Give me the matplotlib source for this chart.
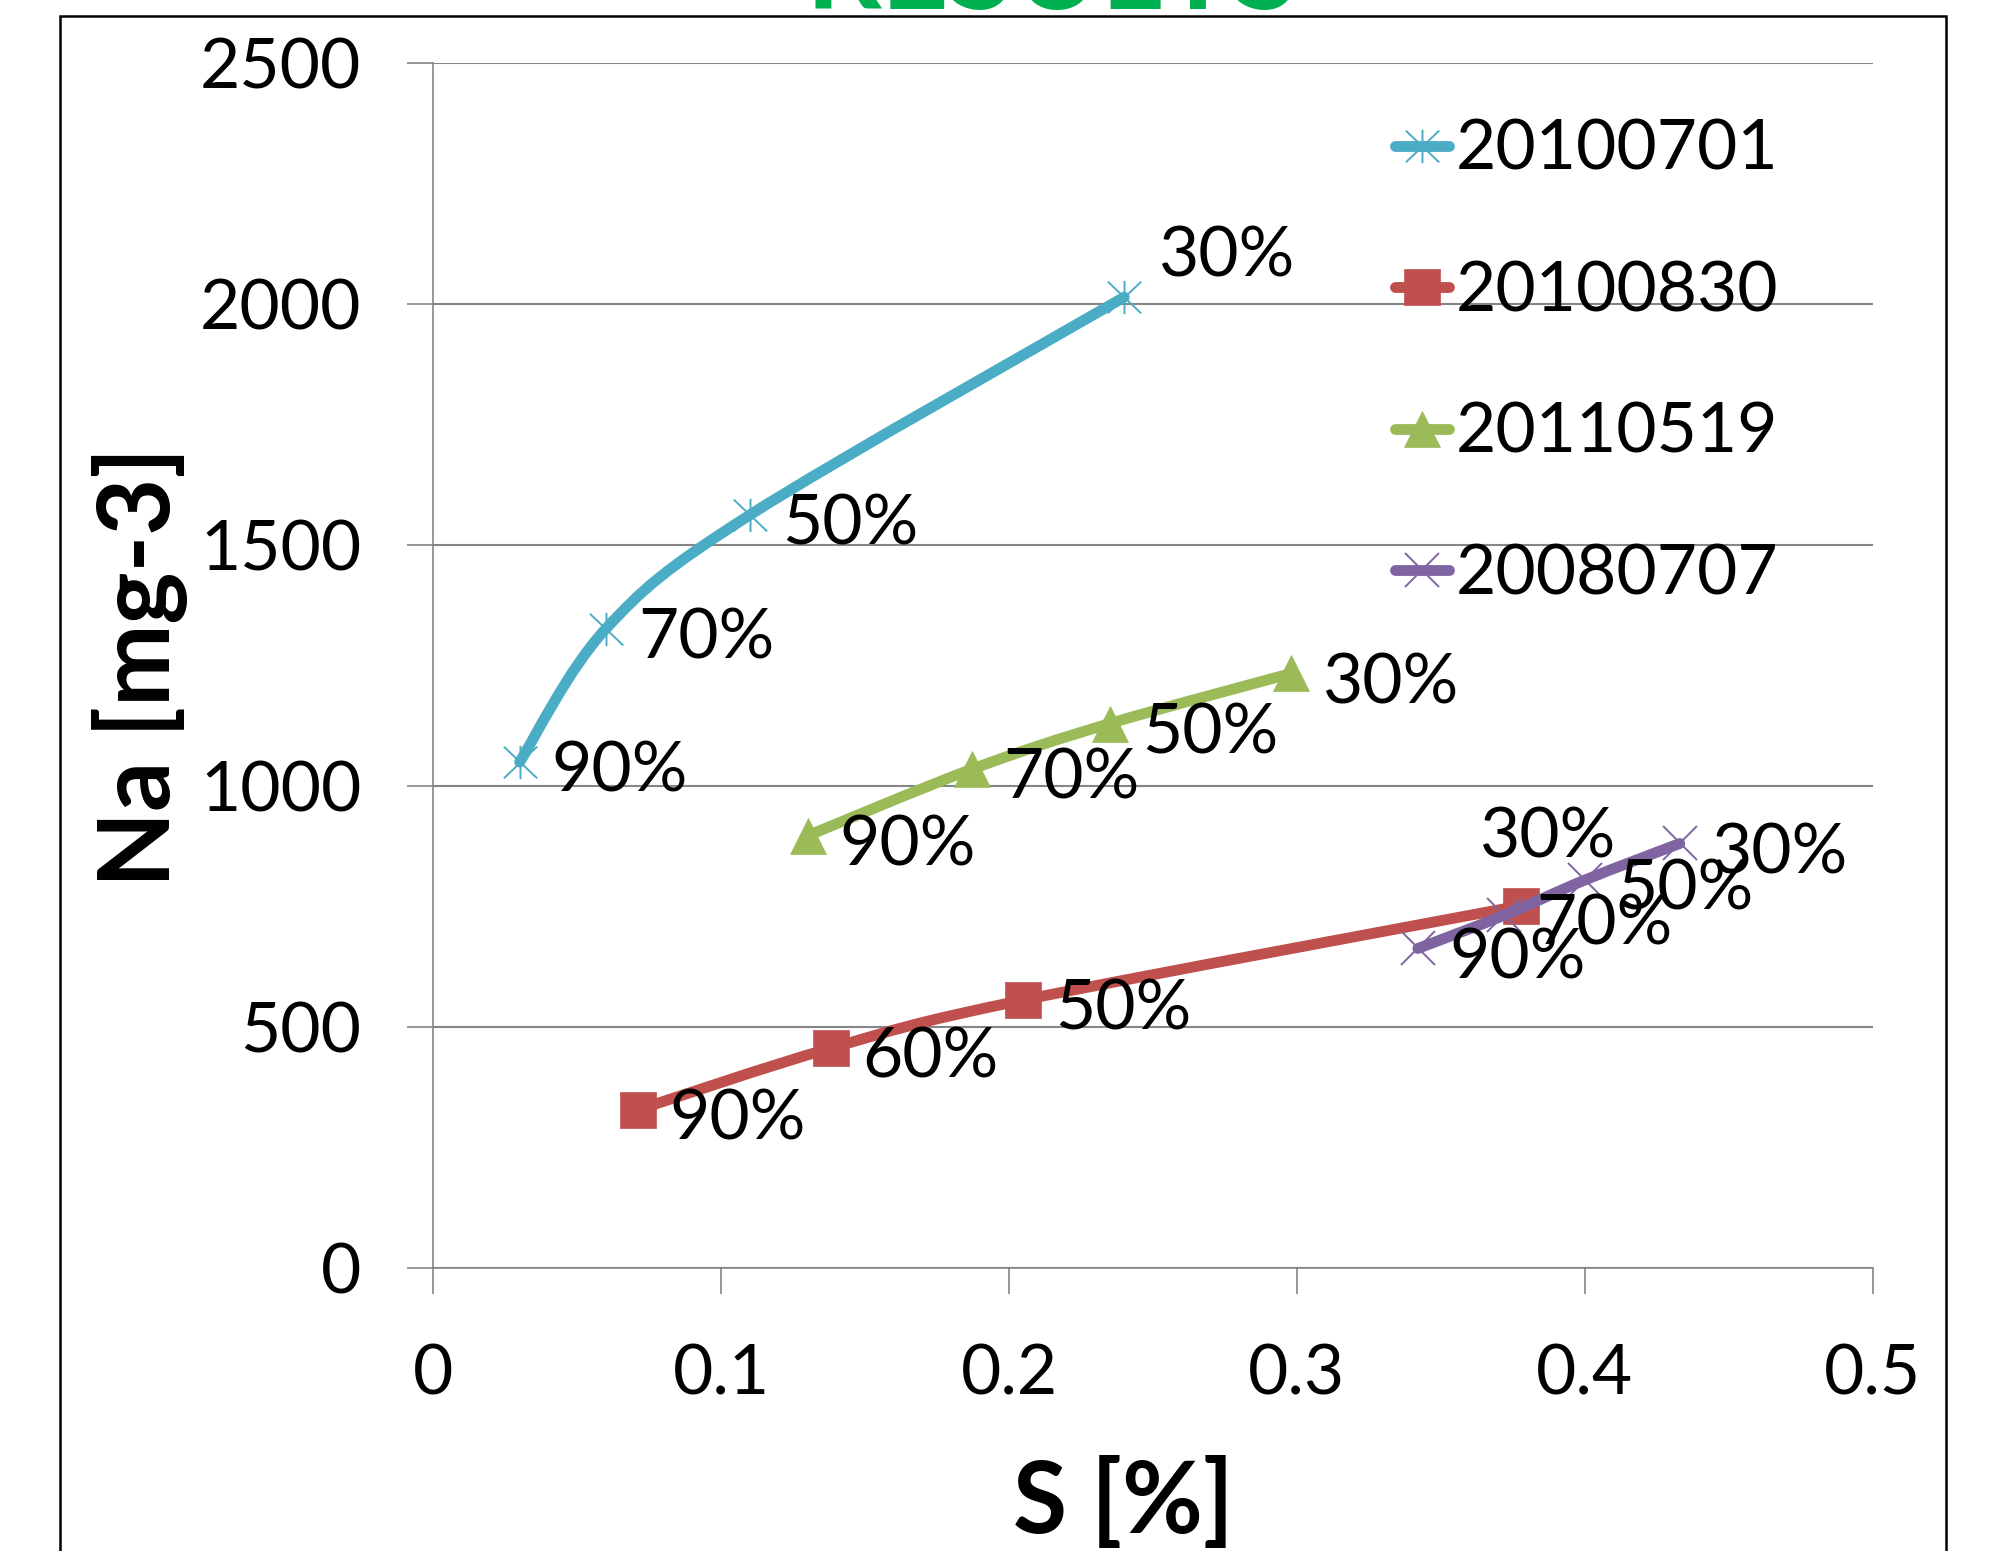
import numpy as np
import matplotlib
matplotlib.use('Agg')
import matplotlib.pyplot as plt
from matplotlib.path import Path
from matplotlib.patches import PathPatch, Rectangle
from matplotlib.lines import Line2D

plt.rcParams['font.family'] = ['Lato', 'DejaVu Sans']

# ---------------- data ----------------
series_names = ['20100701', '20100830', '20110519', '20080707']

s_20100701 = [0.030, 0.060, 0.110, 0.240]
na_20100701 = [1050, 1327, 1563, 2015]
lab_20100701 = ['90%', '70%', '50%', '30%']

s_20100830 = [0.071, 0.138, 0.205, 0.378]
na_20100830 = [328, 456, 556, 752]
lab_20100830 = ['90%', '60%', '50%', '30%']

s_20110519 = [0.130, 0.187, 0.235, 0.298]
na_20110519 = [897, 1035, 1130, 1234]
lab_20110519 = ['90%', '70%', '50%', '30%']

s_20080707 = [0.342, 0.372, 0.400, 0.433]
na_20080707 = [663, 732, 805, 881]
lab_20080707 = ['90%', '70%', '50%', '30%']

x_ticks = [0, 0.1, 0.2, 0.3, 0.4, 0.5]
x_tick_labels = ['0', '0.1', '0.2', '0.3', '0.4', '0.5']
y_ticks = [0, 500, 1000, 1500, 2000, 2500]
y_tick_labels = ['0', '500', '1000', '1500', '2000', '2500']

x_label = 'S [%]'
y_label = 'Na [mg-3]'
title_text = 'RESULTS'

# ---------------- style ----------------
C_CYAN = '#4BACC6'
C_RED = '#C0504D'
C_GREEN = '#9BBB59'
C_PURPLE = '#8064A2'
GRID = '#868686'
FS = 50
LW = 7.8

star_path = Path([(0, -1), (0, 1), (-1, -0.95), (1, 0.95), (-1, 0.95), (1, -0.95)],
                 [Path.MOVETO, Path.LINETO] * 3)


def smooth_path(xs, ys):
    P = np.column_stack([xs, ys]).astype(float)
    n = len(P)
    verts = [P[0]]
    codes = [Path.MOVETO]
    for i in range(n - 1):
        p0 = P[i - 1] if i > 0 else P[i]
        p1 = P[i]
        p2 = P[i + 1]
        p3 = P[i + 2] if i + 2 < n else P[i + 1]
        c1 = p1 + (p2 - p0) / 6.0
        c2 = p2 - (p3 - p1) / 6.0
        verts += [c1, c2, p2]
        codes += [Path.CURVE4] * 3
    return Path(verts, codes)


fig = plt.figure(figsize=(19.92, 15.51), dpi=100)
ax = fig.add_axes([0.2175, 0.18253, 0.9401 - 0.2175, 0.95906 - 0.18253])

series = [
    (s_20100701, na_20100701, lab_20100701, C_CYAN, dict(marker=star_path, markersize=24, fillstyle='none', markeredgewidth=1.4)),
    (s_20100830, na_20100830, lab_20100830, C_RED, dict(marker='s', markersize=26, markeredgewidth=0.5)),
    (s_20110519, na_20110519, lab_20110519, C_GREEN, dict(marker='^', markersize=26, markeredgewidth=0.5)),
    (s_20080707, na_20080707, lab_20080707, C_PURPLE, dict(marker='x', markersize=25, markeredgewidth=1.4)),
]

handles = []
for k, (xs, ys, labs, col, mk) in enumerate(series):
    patch = PathPatch(smooth_path(xs, ys), facecolor='none', edgecolor=col, lw=LW,
                      capstyle='round', joinstyle='round', zorder=3 + k)
    ax.add_patch(patch)
    ax.plot(xs, ys, linestyle='none', color=col, markeredgecolor=col, zorder=3.5 + k, **mk)
    handles.append(Line2D([], [], color=col, lw=LW, solid_capstyle='round',
                          markeredgecolor=col, **mk))

# data labels
label_offsets = {
    (0, 3): (25, 33, 'left'),
    (1, 3): (19, 53, 'center'),
}
for k, (xs, ys, labs, col, mk) in enumerate(series):
    for i, (x, y, t) in enumerate(zip(xs, ys, labs)):
        dx, dy, ha = label_offsets.get((k, i), (23, -3, 'left'))
        ax.annotate(t, (x, y), xytext=(dx, dy), textcoords='offset points',
                    ha=ha, va='center_baseline', fontsize=FS, color='black', zorder=20)

ax.set_xlim(0, 0.5)
ax.set_ylim(0, 2500)
ax.set_xticks(x_ticks)
ax.set_xticklabels(x_tick_labels)
ax.set_yticks(y_ticks)
ax.set_yticklabels(y_tick_labels)

ax.yaxis.grid(True, color=GRID, lw=1.5, zorder=0)
ax.set_axisbelow(True)
for sp in ['top', 'right']:
    ax.spines[sp].set_visible(False)
for sp in ['left', 'bottom']:
    ax.spines[sp].set_color(GRID)
    ax.spines[sp].set_linewidth(1.2)
ax.tick_params(axis='both', which='major', direction='out', length=18.7, width=1.2,
               color=GRID, labelsize=FS, labelcolor='black')
ax.tick_params(axis='y', pad=33)
ax.tick_params(axis='x', pad=36)

leg = ax.legend(handles=handles, labels=series_names, loc='upper left',
                bbox_to_anchor=(0.668, 0.954), frameon=False, fontsize=FS,
                handlelength=0.78, handletextpad=0.1, labelspacing=1.13,
                borderpad=0, borderaxespad=0, markerscale=1.0)

fig.text(1123 / 1992, 1 - 1503 / 1551, x_label, ha='center', va='center',
         fontsize=71, fontweight='bold')
fig.text(140 / 1992, 1 - 667 / 1551, y_label, ha='center', va='center',
         rotation=90, fontsize=71, fontweight='bold')

fig.text(0.528, 1 - 9 / 1551, title_text, ha='center', va='baseline',
         fontsize=85, fontweight='bold', color='#00B050')

fig.add_artist(Rectangle((60 / 1992, -0.2), (1946 - 60) / 1992, 0.2 + 1 - 16 / 1551,
                         transform=fig.transFigure, fill=False, edgecolor='black',
                         lw=1.8, clip_on=False))

fig.savefig('out.png', dpi=100, facecolor='white')
